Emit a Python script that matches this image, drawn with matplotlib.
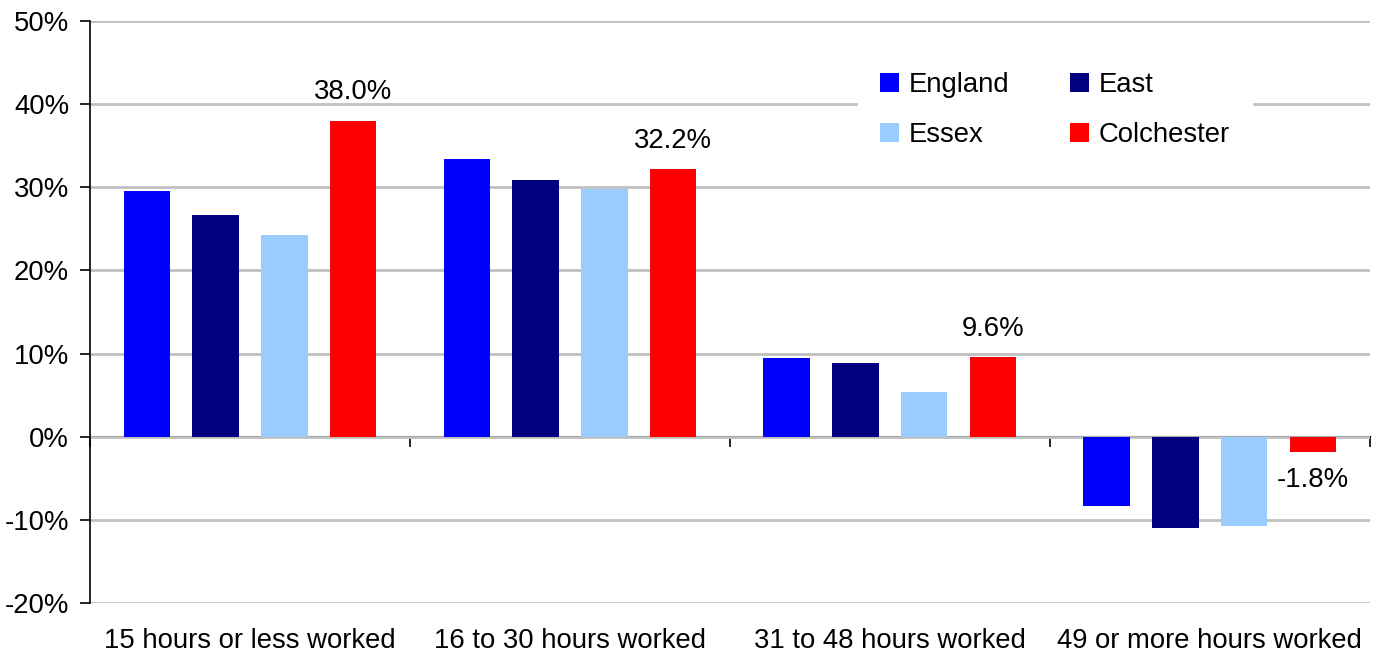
import matplotlib.pyplot as plt
import numpy as np

plt.rcParams['font.family'] = ['Liberation Sans', 'DejaVu Sans']
plt.rcParams['font.size'] = 19.8

categories = ["15 hours or less worked", "16 to 30 hours worked",
              "31 to 48 hours worked", "49 or more hours worked"]
series = ["England", "East", "Essex", "Colchester"]
england = [29.5, 33.4, 9.5, -8.3]
east = [26.7, 30.9, 8.9, -11.0]
essex = [24.2, 29.8, 5.4, -10.8]
colchester = [38.0, 32.2, 9.6, -1.8]
colors = ["#0000FF", "#000080", "#99CCFF", "#FF0000"]

fig = plt.figure(figsize=(13.79, 6.57), dpi=100)
ax = fig.add_axes([0.0653, 0.0822, 0.928, 0.886])

centers = np.arange(len(categories)) + 0.5
step = 0.215
width = 0.145
bars = {}
for i, (name, vals) in enumerate(zip(series, [england, east, essex, colchester])):
    bars[name] = ax.bar(centers + (i - 1.5) * step, vals, width, color=colors[i],
                        label=name, zorder=3)

ax.bar_label(bars["Colchester"], labels=[f"{v:.1f}%" for v in colchester],
             padding=11)

ax.set_xlim(0, 4)
ax.set_ylim(-20, 50)
ax.set_yticks(range(-20, 51, 10))
ax.set_yticklabels([f"{t}%" for t in range(-20, 51, 10)])
ax.yaxis.grid(True, color="#C0C0C0", linewidth=2)
ax.set_axisbelow(True)
ax.tick_params(axis='y', length=7, width=1.2, pad=8)

for s in ["top", "right", "bottom"]:
    ax.spines[s].set_visible(False)
ax.spines["left"].set_linewidth(1.2)

ax.set_xticks(centers)
ax.set_xticklabels(categories)
ax.tick_params(axis='x', length=0, pad=18)

# category axis at zero with boundary ticks
zero_ax = ax.secondary_xaxis(20 / 70)
zero_ax.set_xticks(np.arange(len(categories) + 1))
zero_ax.set_xticklabels([])
zero_ax.tick_params(axis='x', direction='out', length=7, width=1.2)
zero_ax.spines["bottom"].set_linewidth(1.5)

handles = [bars["England"], bars["Essex"], bars["East"], bars["Colchester"]]
leg = ax.legend(handles, ["England", "Essex", "East", "Colchester"], ncol=2,
                loc="upper left", bbox_to_anchor=(0.6, 0.95), borderaxespad=0,
                frameon=True, fancybox=False, framealpha=1, edgecolor="white",
                handlelength=0.7, handleheight=0.7, handletextpad=0.35,
                columnspacing=2.2, labelspacing=0.88, borderpad=0.8)
leg.set_zorder(5)

fig.savefig("out.png", dpi=100)
